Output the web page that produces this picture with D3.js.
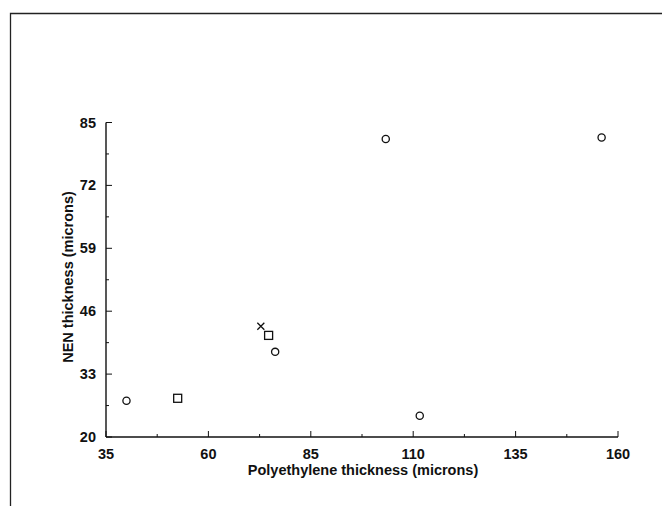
<!DOCTYPE html>
<html>
<head>
<meta charset="utf-8">
<script src="https://cdn.jsdelivr.net/npm/d3@7"></script>
<style>
  body { margin: 0; background: #fff; }
  text { font-family: "Liberation Sans", Arial, sans-serif; font-weight: bold; fill: #111; }
</style>
</head>
<body>
<div id="chart"></div>
<script>
// values
var circleX = [40.0, 76.3, 103.3, 111.6, 156.0];
var circleY = [27.5, 37.6, 81.6, 24.4, 81.9];
var squareX = [52.5, 74.7];
var squareY = [28.0, 41.0];
var crossX = [72.8];
var crossY = [42.9];
var xTicks = [35, 60, 85, 110, 135, 160];
var yTicks = [20, 33, 46, 59, 72, 85];

var w = 662, h = 506;
var svg = d3.select("#chart").append("svg")
    .attr("width", w)
    .attr("height", h);

// page frame (scanned figure border)
svg.append("path")
    .attr("d", "M10.5,506 V13.5 H662")
    .attr("fill", "none")
    .attr("stroke", "#222")
    .attr("stroke-width", 1.3);

var x = d3.scaleLinear().domain([35, 160]).range([106, 618]);
var y = d3.scaleLinear().domain([20, 85]).range([437, 122.5]);

// minor ticks halfway between the labelled ones
var xMinor = xTicks.slice(1).map(function(d, i) { return (d + xTicks[i]) / 2; });
var yMinor = yTicks.slice(1).map(function(d, i) { return (d + yTicks[i]) / 2; });

var g = svg.append("g");

// x axis, ticks pointing up into the plot
var xAxis = g.append("g").attr("transform", "translate(0," + y(20) + ")");
xAxis.append("line")
    .attr("x1", x(35)).attr("x2", x(160))
    .attr("stroke", "#111").attr("stroke-width", 1.4);
xAxis.selectAll(".maj").data(xTicks).enter().append("line")
    .attr("x1", function(d) { return x(d); })
    .attr("x2", function(d) { return x(d); })
    .attr("y1", 0).attr("y2", -6)
    .attr("stroke", "#111").attr("stroke-width", 1);
xAxis.selectAll(".min").data(xMinor).enter().append("line")
    .attr("x1", function(d) { return x(d); })
    .attr("x2", function(d) { return x(d); })
    .attr("y1", 0).attr("y2", -3)
    .attr("stroke", "#111").attr("stroke-width", 1);
xAxis.selectAll("text").data(xTicks).enter().append("text")
    .attr("x", function(d) { return x(d); })
    .attr("y", 22)
    .attr("text-anchor", "middle")
    .style("font-size", "14.5px")
    .text(function(d) { return d; });

// y axis, ticks pointing right into the plot
var yAxis = g.append("g").attr("transform", "translate(" + x(35) + ",0)");
yAxis.append("line")
    .attr("y1", y(20)).attr("y2", y(85))
    .attr("stroke", "#111").attr("stroke-width", 1.4);
yAxis.selectAll(".maj").data(yTicks).enter().append("line")
    .attr("y1", function(d) { return y(d); })
    .attr("y2", function(d) { return y(d); })
    .attr("x1", 0).attr("x2", 6)
    .attr("stroke", "#111").attr("stroke-width", 1);
yAxis.selectAll(".min").data(yMinor).enter().append("line")
    .attr("y1", function(d) { return y(d); })
    .attr("y2", function(d) { return y(d); })
    .attr("x1", 0).attr("x2", 3)
    .attr("stroke", "#111").attr("stroke-width", 1);
yAxis.selectAll("text").data(yTicks).enter().append("text")
    .attr("x", -10)
    .attr("y", function(d) { return y(d) + 5; })
    .attr("text-anchor", "end")
    .style("font-size", "14.5px")
    .text(function(d) { return d; });

// axis titles
svg.append("text")
    .attr("x", 363)
    .attr("y", 475)
    .attr("text-anchor", "middle")
    .style("font-size", "14.5px")
    .text("Polyethylene thickness (microns)");
svg.append("text")
    .attr("transform", "translate(73,277) rotate(-90)")
    .attr("text-anchor", "middle")
    .style("font-size", "14.5px")
    .text("NEN thickness (microns)");

// markers
var circles = circleX.map(function(d, i) { return { x: d, y: circleY[i] }; });
var squares = squareX.map(function(d, i) { return { x: d, y: squareY[i] }; });
var crosses = crossX.map(function(d, i) { return { x: d, y: crossY[i] }; });

g.selectAll(".pt-c").data(circles).enter().append("circle")
    .attr("cx", function(d) { return x(d.x); })
    .attr("cy", function(d) { return y(d.y); })
    .attr("r", 3.6)
    .attr("fill", "none")
    .attr("stroke", "#111")
    .attr("stroke-width", 1.3);

g.selectAll(".pt-s").data(squares).enter().append("rect")
    .attr("x", function(d) { return x(d.x) - 4; })
    .attr("y", function(d) { return y(d.y) - 4; })
    .attr("width", 8)
    .attr("height", 8)
    .attr("fill", "none")
    .attr("stroke", "#111")
    .attr("stroke-width", 1.3);

g.selectAll(".pt-x").data(crosses).enter().append("path")
    .attr("d", function(d) {
      var cx = x(d.x), cy = y(d.y), s = 3.5;
      return "M" + (cx - s) + "," + (cy - s) + "L" + (cx + s) + "," + (cy + s) +
             "M" + (cx - s) + "," + (cy + s) + "L" + (cx + s) + "," + (cy - s);
    })
    .attr("stroke", "#111")
    .attr("stroke-width", 1.3);
</script>
</body>
</html>
